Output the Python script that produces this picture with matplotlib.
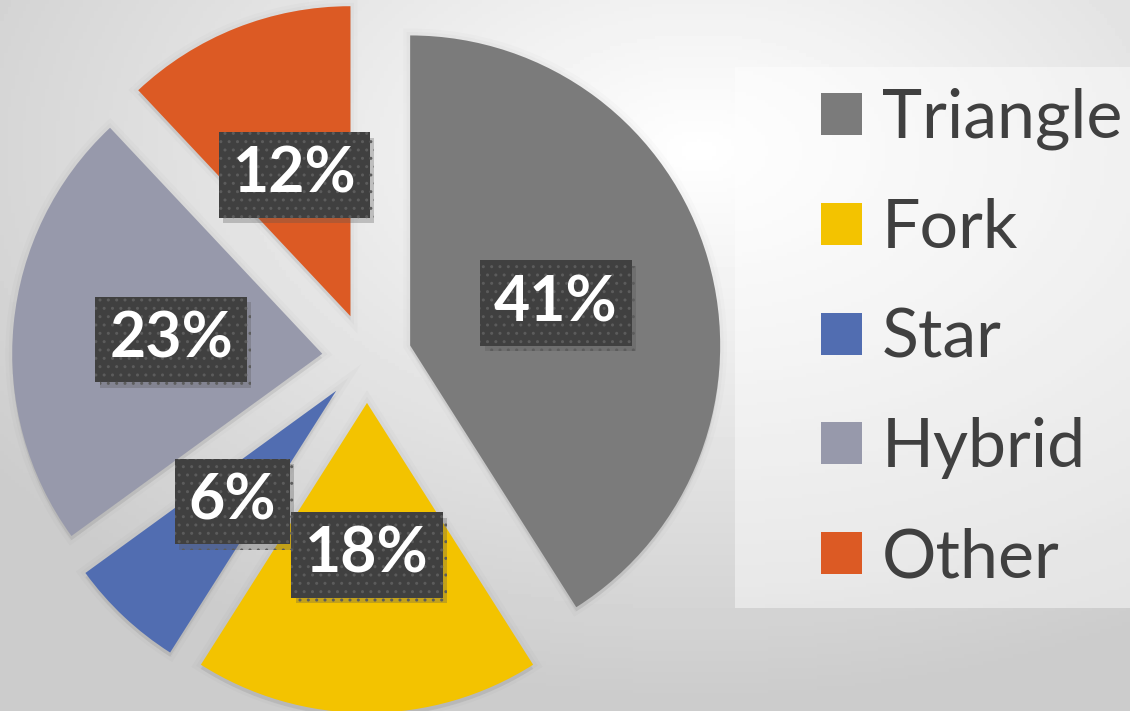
"""Exploded pie chart of shape categories with a legend on the right."""

import matplotlib

matplotlib.use("Agg")
import matplotlib.pyplot as plt
import matplotlib.patheffects as pe
import numpy as np
from matplotlib.patches import Rectangle

labels = ["Triangle", "Fork", "Star", "Hybrid", "Other"]
shares = [41, 18, 6, 23, 12]
colors = ["#7b7b7b", "#f3c300", "#516db1", "#9799ab", "#dc5a24"]

W, H = 1130, 711
fig = plt.figure(figsize=(W / 100, H / 100), dpi=100)
ax = fig.add_axes([0, 0, 1, 1])

# pixel -> data mapping: pie centre at (367, 358) px, radius 310 px
cx, cy, rpx = 367, 358, 310
xlim = (-cx / rpx, (W - cx) / rpx)
ylim = ((cy - H) / rpx, cy / rpx)

# soft grey radial background
gx, gy = np.meshgrid(np.linspace(0, W, 300), np.linspace(0, H, 200))
dist = np.hypot((gx - 700) / W, (gy - 150) / H)
shade = np.clip(1.0 - 0.26 * dist, 0.8, 1.0)
ax.imshow(shade, cmap="gray", vmin=0, vmax=1, extent=(*xlim, ylim[0], ylim[1]),
          origin="upper", aspect="auto", zorder=0)

wedges, _, pcts = ax.pie(
    shares,
    colors=colors,
    startangle=90,
    counterclock=False,
    explode=[0.145] * len(shares),
    autopct="%1.0f%%",
    pctdistance=0.49,
    textprops=dict(color="white", fontsize=45, fontweight="bold", family="Lato"),
    wedgeprops=dict(linewidth=0),
)
for w in wedges:
    w.set_zorder(2)
    w.set_path_effects([
        pe.SimplePatchShadow(offset=(0, -3), shadow_rgbFace="k", alpha=0.06),
        pe.Stroke(linewidth=10, foreground="k", alpha=0.015),
        pe.Stroke(linewidth=5, foreground="k", alpha=0.02),
        pe.Normal(),
    ])

for t in pcts:
    t.set_zorder(5)
    t.set_bbox(dict(boxstyle="square,pad=0.22", facecolor="#404040",
                    edgecolor="#5c5c5c", linewidth=0, hatch=".."))
    t.get_bbox_patch().set_path_effects([
        pe.SimplePatchShadow(offset=(3, -4), shadow_rgbFace="#555555", alpha=0.3),
        pe.Normal(),
    ])

ax.set_xlim(*xlim)
ax.set_ylim(*ylim)
ax.set_aspect("equal")
ax.axis("off")

# legend panel
ax.add_patch(Rectangle((735 / W, 1 - 608 / H), (W - 735) / W, (608 - 67) / H,
                       transform=fig.transFigure, facecolor="white",
                       alpha=0.45, edgecolor="none", zorder=1))

leg = ax.legend(
    wedges, labels,
    loc="upper left",
    bbox_to_anchor=(821 / W, 1 - 88 / H),
    bbox_transform=fig.transFigure,
    frameon=False,
    prop=dict(family="Lato", size=49),
    handlelength=0.6,
    handleheight=0.57,
    handletextpad=0.29,
    labelspacing=0.7,
    borderpad=0,
    borderaxespad=0,
)
leg.set_zorder(6)
for txt in leg.get_texts():
    txt.set_color("#404040")
for h in leg.legend_handles:
    h.set_path_effects([])

fig.savefig("out.png", dpi=100)
